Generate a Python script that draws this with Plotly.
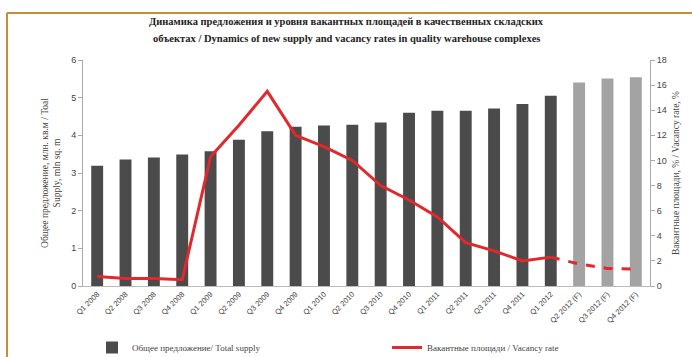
import plotly.graph_objects as go

categories = ["Q1 2008", "Q2 2008", "Q3 2008", "Q4 2008",
              "Q1 2009", "Q2 2009", "Q3 2009", "Q4 2009",
              "Q1 2010", "Q2 2010", "Q3 2010", "Q4 2010",
              "Q1 2011", "Q2 2011", "Q3 2011", "Q4 2011",
              "Q1 2012", "Q2 2012 (F)", "Q3 2012 (F)", "Q4 2012 (F)"]
supply = [3.19, 3.36, 3.41, 3.49, 3.58, 3.88, 4.11, 4.23, 4.26, 4.28,
          4.34, 4.60, 4.65, 4.65, 4.71, 4.83, 5.05, 5.40, 5.51, 5.54]
vacancy_actual = [0.75, 0.6, 0.6, 0.5, 10.3, 12.8, 15.5, 12.0, 11.1, 10.0,
                  8.0, 6.85, 5.5, 3.45, 2.8, 2.0, 2.3]
vacancy_forecast = [2.3, 1.75, 1.4, 1.35]
n_actual = 17

title_l1 = "Динамика предложения и уровня вакантных площадей в качественных складских"
title_l2 = "объектах / Dynamics of new supply and vacancy rates in quality warehouse complexes"
left_title = "Общее предложение, млн. кв.м / Toal<br>Supply, mln sq. m"
right_title = "Вакантные площади, % / Vacancy rate, %"
name_supply = "Общее предложение/ Total supply"
name_vac = "Вакантные площади / Vacancy rate"

dark = "#4b4b4b"
light = "#a3a3a3"
red = "#e2282c"
serif = "Liberation Serif, Times New Roman, serif"
sans = "Liberation Sans, Arial, sans-serif"

bar_colors = [dark if i < n_actual else light for i in range(len(categories))]

L, R, T, B = 83, 42, 60, 71
W, H = 692, 357
pw, ph = W - L - R, H - T - B

def px(xp):
    return (xp - L) / pw

def py(yp):
    return (H - B - yp) / ph

fig = go.Figure()
fig.add_trace(go.Bar(x=categories, y=supply, marker=dict(color=bar_colors, line=dict(width=0)),
                     name=name_supply, yaxis="y", legend="legend"))
fig.add_trace(go.Scatter(x=categories[:n_actual], y=vacancy_actual, mode="lines",
                         line=dict(color=red, width=3), name=name_vac, yaxis="y2", legend="legend2"))
fig.add_trace(go.Scatter(x=categories[n_actual - 1:], y=vacancy_forecast, mode="lines",
                         line=dict(color=red, width=3, dash="dash"), showlegend=False, yaxis="y2"))

border = "#c98a3e"
fig.add_shape(type="line", xref="paper", yref="paper", x0=px(7), x1=px(692), y0=py(13), y1=py(13),
              line=dict(color=border, width=2))
fig.add_shape(type="line", xref="paper", yref="paper", x0=px(7), x1=px(7), y0=py(13), y1=py(360),
              line=dict(color=border, width=2))

for txt, yy in [(title_l1, 21), (title_l2, 39)]:
    fig.add_annotation(text="<b>" + txt + "</b>", xref="paper", yref="paper", x=px(346), y=py(yy),
                       showarrow=False, xanchor="center", yanchor="middle",
                       font=dict(family=serif, size=10.5, color="#222"))

legfont = dict(family=serif, size=9, color="#444")
fig.update_layout(
    width=W, height=H,
    margin=dict(l=L, r=R, t=T, b=B, autoexpand=False),
    paper_bgcolor="white", plot_bgcolor="white",
    bargap=0.58,
    showlegend=True,
    legend=dict(orientation="h", x=px(92), y=py(333), xanchor="left", yanchor="top",
                font=legfont, bgcolor="rgba(0,0,0,0)", itemwidth=30),
    legend2=dict(orientation="h", x=px(387), y=py(333), xanchor="left", yanchor="top",
                 font=legfont, bgcolor="rgba(0,0,0,0)", itemwidth=30),
    xaxis=dict(type="category", tickangle=-45, tickfont=dict(family=sans, size=7.5, color="#444"),
               showline=True, linecolor="#bbb", ticks="", showgrid=False, automargin=False),
    yaxis=dict(range=[0, 6], dtick=1, showgrid=False, showline=True, linecolor="#aaa",
               ticks="outside", ticklen=4, tickcolor="#aaa", automargin=False,
               tickfont=dict(family=sans, size=9, color="#444"),
               title=dict(text=left_title, font=dict(family=serif, size=9.5, color="#444"), standoff=8),
               zeroline=False),
    yaxis2=dict(range=[0, 18], dtick=2, overlaying="y", side="right", showgrid=False, showline=True,
                linecolor="#aaa", ticks="outside", ticklen=4, tickcolor="#aaa", automargin=False,
                tickfont=dict(family=sans, size=9, color="#444"),
                title=dict(text=right_title, font=dict(family=serif, size=9.5, color="#444"), standoff=6),
                zeroline=False),
)

fig.write_html("out.html")
